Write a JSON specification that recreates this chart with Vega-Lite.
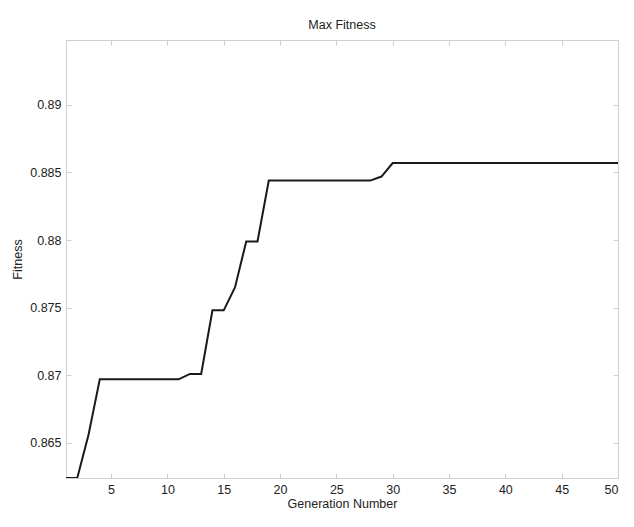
{
  "$schema": "https://vega.github.io/schema/vega-lite/v6.json",
  "autosize": "none",
  "width": 552,
  "height": 438,
  "padding": {"left": 66, "top": 40, "right": 16, "bottom": 49},
  "background": "white",
  "title": {
    "text": "Max Fitness",
    "fontSize": 12.5,
    "fontWeight": "normal",
    "font": "Liberation Sans",
    "color": "#222",
    "offset": 8
  },
  "data": {
    "values": [
      {"generation": 1, "fitness": 0.8624},
      {"generation": 2, "fitness": 0.8624},
      {"generation": 3, "fitness": 0.8656},
      {"generation": 4, "fitness": 0.8697},
      {"generation": 5, "fitness": 0.8697},
      {"generation": 6, "fitness": 0.8697},
      {"generation": 7, "fitness": 0.8697},
      {"generation": 8, "fitness": 0.8697},
      {"generation": 9, "fitness": 0.8697},
      {"generation": 10, "fitness": 0.8697},
      {"generation": 11, "fitness": 0.8697},
      {"generation": 12, "fitness": 0.8701},
      {"generation": 13, "fitness": 0.8701},
      {"generation": 14, "fitness": 0.8748},
      {"generation": 15, "fitness": 0.8748},
      {"generation": 16, "fitness": 0.8765},
      {"generation": 17, "fitness": 0.8799},
      {"generation": 18, "fitness": 0.8799},
      {"generation": 19, "fitness": 0.8844},
      {"generation": 20, "fitness": 0.8844},
      {"generation": 21, "fitness": 0.8844},
      {"generation": 22, "fitness": 0.8844},
      {"generation": 23, "fitness": 0.8844},
      {"generation": 24, "fitness": 0.8844},
      {"generation": 25, "fitness": 0.8844},
      {"generation": 26, "fitness": 0.8844},
      {"generation": 27, "fitness": 0.8844},
      {"generation": 28, "fitness": 0.8844},
      {"generation": 29, "fitness": 0.8847},
      {"generation": 30, "fitness": 0.8857},
      {"generation": 31, "fitness": 0.8857},
      {"generation": 32, "fitness": 0.8857},
      {"generation": 33, "fitness": 0.8857},
      {"generation": 34, "fitness": 0.8857},
      {"generation": 35, "fitness": 0.8857},
      {"generation": 36, "fitness": 0.8857},
      {"generation": 37, "fitness": 0.8857},
      {"generation": 38, "fitness": 0.8857},
      {"generation": 39, "fitness": 0.8857},
      {"generation": 40, "fitness": 0.8857},
      {"generation": 41, "fitness": 0.8857},
      {"generation": 42, "fitness": 0.8857},
      {"generation": 43, "fitness": 0.8857},
      {"generation": 44, "fitness": 0.8857},
      {"generation": 45, "fitness": 0.8857},
      {"generation": 46, "fitness": 0.8857},
      {"generation": 47, "fitness": 0.8857},
      {"generation": 48, "fitness": 0.8857},
      {"generation": 49, "fitness": 0.8857},
      {"generation": 50, "fitness": 0.8857}
    ]
  },
  "layer": [
    {
      "mark": {"type": "line", "color": "#1a1a1a", "strokeWidth": 2, "clip": true},
      "encoding": {
        "x": {
          "field": "generation",
          "type": "quantitative",
          "scale": {"domain": [1, 50], "nice": false, "zero": false},
          "axis": {
            "orient": "bottom",
            "title": "Generation Number",
            "values": [5, 10, 15, 20, 25, 30, 35, 40, 45, 50],
            "titlePadding": 2
          }
        },
        "y": {
          "field": "fitness",
          "type": "quantitative",
          "scale": {"domain": [0.8624, 0.8948], "nice": false, "zero": false},
          "axis": {
            "orient": "left",
            "title": "Fitness",
            "format": "~g",
            "values": [0.865, 0.87, 0.875, 0.88, 0.885, 0.89],
            "titlePadding": 5
          }
        }
      }
    },
    {
      "mark": {"type": "line", "opacity": 0, "clip": true},
      "encoding": {
        "x": {
          "field": "generation",
          "type": "quantitative",
          "scale": {"domain": [1, 50], "nice": false, "zero": false},
          "axis": {
            "orient": "top",
            "title": null,
            "labels": false,
            "values": [5, 10, 15, 20, 25, 30, 35, 40, 45, 50]
          }
        },
        "y": {
          "field": "fitness",
          "type": "quantitative",
          "scale": {"domain": [0.8624, 0.8948], "nice": false, "zero": false},
          "axis": {
            "orient": "right",
            "title": null,
            "labels": false,
            "values": [0.865, 0.87, 0.875, 0.88, 0.885, 0.89]
          }
        }
      }
    }
  ],
  "resolve": {"axis": {"x": "independent", "y": "independent"}},
  "config": {
    "view": {"stroke": "#d0d0d0", "strokeWidth": 1},
    "axis": {
      "grid": false,
      "domainColor": "#d0d0d0",
      "tickColor": "#d0d0d0",
      "tickSize": -5,
      "labelPadding": 10,
      "labelFont": "Liberation Sans",
      "labelFontSize": 12.5,
      "labelColor": "#222",
      "titleFont": "Liberation Sans",
      "titleFontSize": 12.5,
      "titleFontWeight": "normal",
      "titleColor": "#222"
    }
  }
}
